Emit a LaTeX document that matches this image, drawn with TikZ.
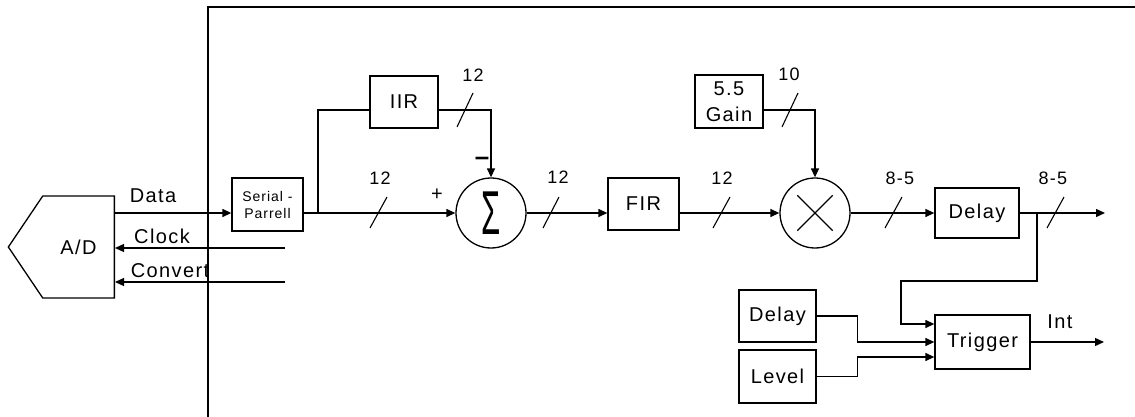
\documentclass[tikz,border=0pt]{standalone}
\usepackage{fontspec}
\setmainfont{Liberation Sans}[LetterSpace=7]
\usepackage{graphicx}
\usetikzlibrary{positioning, arrows.meta, calc, shapes.symbols}

\begin{document}
\begin{tikzpicture}[
    x=1pt, y=-1pt,
    line width=1.3pt,
    block/.style={draw, minimum width=71pt, minimum height=52pt, inner sep=0pt,
                  align=center, font=\fontsize{20}{26}\selectfont},
    junc/.style={draw, circle, minimum size=70pt, inner sep=0pt},
    arr/.style={-{Triangle[length=9pt, width=8pt]}},
    slash/.style={line width=1.1pt},
    num/.style={font=\fontsize{18}{18}\selectfont},
    lbl/.style={font=\fontsize{20}{20}\selectfont}
]
\useasboundingbox (0,0) rectangle (1135,417);

% --- Frame ---
\draw[line width=1.6pt] (208,417) |- (1135,7);

% --- Converter and its lines ---
\node[draw, signal, signal to=west, signal pointer angle=112, minimum width=106pt,
      minimum height=102pt, inner sep=0pt, anchor=east, lbl] (ad) at (115,247) {A/D};
\coordinate (bus) at (0,213);
\coordinate (clk) at (285,248);
\coordinate (cvt) at (285,282);

\node[block, minimum height=53pt, font=\fontsize{14}{17}\selectfont] (sp) at (267.5,204.5) {Serial -\\Parrell};

\draw[arr] (ad.east |- bus) -- (sp.west |- bus);
\draw[arr] (clk) -- (ad.east |- clk);
\draw[arr] (cvt) -- (ad.east |- cvt);
\node[lbl] at (153,196) {Data};
\node[lbl] at (162,236) {Clock};
\node[lbl] at (170,271) {Convert};

% --- Filter path (top) ---
\node[block, minimum width=68pt] (iir) at (404,102) {IIR};
\node[junc] (sum) at (491,213) {\scalebox{0.5}[1]{\fontsize{62}{62}\selectfont Σ}};
\node[block] (fir) at (643.5,204) {FIR};
\node[block, minimum width=68pt, minimum height=53pt] (gain) at (729,101.5) {5.5\\Gain};
\node[junc] (mul) at (815,213) {};
\draw ($(mul.center)!0.7!(mul.45)$) -- ($(mul.center)!0.7!(mul.225)$);
\draw ($(mul.center)!0.7!(mul.135)$) -- ($(mul.center)!0.7!(mul.315)$);
\node[block, minimum width=84pt, minimum height=50pt] (dly) at (977,213) {Delay};
\coordinate (out1) at (1105,213);

\draw[arr] (sp.east |- bus) -- (sum.west);
\coordinate (tap) at (318,213);
\draw (tap) |- ([yshift=-8pt]iir.west);
\draw[arr] ([yshift=-8pt]iir.east) -| (sum.north);
\node[lbl] at (437,195) {+};
\node[font=\fontsize{26}{26}\selectfont\bfseries] at (482,161) {–};

\draw[arr] (sum.east) -- (fir.west |- bus);
\draw[arr] (fir.east |- bus) -- (mul.west);
\draw[arr] ([yshift=-8.5pt]gain.east) -| (mul.north);
\draw[arr] (mul.east) -- (dly.west);
\draw[arr] (dly.east) -- (out1);

% bus widths
\draw[slash] (457,127) -- (473,93);   \node[num] at (473,75) {12};
\draw[slash] (370,228) -- (387,197);  \node[num] at (380,178) {12};
\draw[slash] (543,228) -- (559,197);  \node[num] at (558,177) {12};
\draw[slash] (713,228) -- (730,197);  \node[num] at (722,178) {12};
\draw[slash] (782,127) -- (798,93);   \node[num] at (789,74) {10};
\draw[slash] (885,228) -- (902,197);  \node[num] at (900,178) {8-5};
\draw[slash] (1047,228) -- (1064,197); \node[num] at (1053,178) {8-5};

% --- Trigger (bottom) ---
\node[block, minimum width=95pt, minimum height=54pt] (trig) at (982.5,342) {Trigger};
\node[block, minimum width=77pt] (dly2) at (777.5,316) {Delay};
\node[block, minimum width=77pt, minimum height=53pt] (lvl) at (777.5,376.5) {Level};
\coordinate (tap2) at (1037,213);
\coordinate (out2) at (1104,342);

\draw[arr] (tap2) |- (901,281) |- ([yshift=18pt]trig.west);
\draw[arr] (dly2.east) -- ++(41,0) |- (trig.west);
\draw[arr] (lvl.east) -- ++(41,0) |- ([yshift=-15pt]trig.west);
\draw[arr] (trig.east) -- (out2);
\node[lbl] at (1060,322) {Int};

\end{tikzpicture}
\end{document}
